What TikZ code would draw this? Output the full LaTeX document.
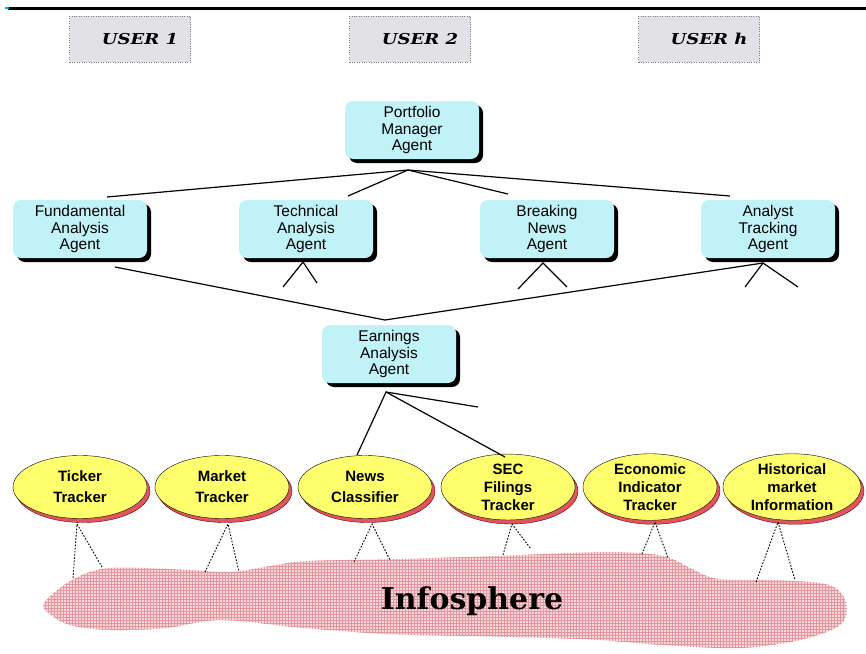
\documentclass[tikz,border=0pt]{standalone}
\usepackage{graphicx}
\usepackage{fontspec}
\setmainfont{Liberation Sans}
\newfontfamily\slab{DejaVu Serif}
\usetikzlibrary{patterns,shapes.geometric,shadows}

\definecolor{agentcyan}{RGB}{192,242,248}
\definecolor{trackyellow}{RGB}{255,255,110}
\definecolor{shadowred}{RGB}{225,85,95}
\definecolor{infopink}{RGB}{250,214,214}
\definecolor{infogrid}{RGB}{225,150,160}
\definecolor{usergray}{RGB}{225,225,230}

\begin{document}
\begin{tikzpicture}[x=1pt,y=-1pt,
  agent/.style={fill=agentcyan, rounded corners=8pt, minimum width=134pt,
    minimum height=58pt, align=center, inner sep=1pt,
    font=\fontsize{15.5}{16.5}\selectfont,
    drop shadow={shadow xshift=4pt, shadow yshift=-4pt, fill=black, opacity=1}},
  tracker/.style={ellipse, draw=black, fill=trackyellow, minimum width=134pt,
    minimum height=63pt, inner sep=0pt, align=center,
    font=\bfseries\fontsize{15}{18}\selectfont,
    drop shadow={shadow xshift=3pt, shadow yshift=-4pt, fill=shadowred,
      draw=black!60!red, opacity=1}},
  userbox/.style={draw=gray, dotted, fill=usergray, minimum width=121pt,
    minimum height=46pt, inner sep=0pt,
    font=\slab\bfseries\itshape\fontsize{15}{17}\selectfont},
  tree/.style={line width=1.2pt, black},
  dots/.style={line width=0.9pt, dash pattern=on 1.6pt off 1.6pt, black}]

\useasboundingbox (0,0) rectangle (866,653);

% top rule
\draw[line width=3pt] (8,8) -- (866,8);
\draw[cyan, line width=2pt] (5,8) -- (9,8);

% users
\node[userbox] (u1) at (130,39) {\hspace*{20pt}\scalebox{1.2}[1]{USER 1}};
\node[userbox] (u2) at (410,39) {\hspace*{20pt}\scalebox{1.2}[1]{USER 2}};
\node[userbox] (uh) at (699,39) {\hspace*{20pt}\scalebox{1.2}[1]{USER \textit{h}}};

% agents
\node[agent] (pm) at (412,130) {Portfolio\\Manager\\Agent};
\node[agent] (fa) at (80,229) {Fundamental\\Analysis\\Agent};
\node[agent] (ta) at (306,229) {Technical\\Analysis\\Agent};
\node[agent] (bn) at (547,229) {Breaking\\News\\Agent};
\node[agent] (at) at (768,229) {Analyst\\Tracking\\Agent};
\node[agent] (ea) at (389,354) {Earnings\\Analysis\\Agent};

% trackers
\node[tracker] (tt) at (80,487) {Ticker\\[3pt]Tracker};
\node[tracker] (mt) at (222,487) {Market\\[3pt]Tracker};
\node[tracker] (nc) at (365,487) {News\\[3pt]Classifier};
\node[tracker] (sf) at (508,487) {SEC\\Filings\\Tracker};
\node[tracker] (ei) at (650,487) {Economic\\Indicator\\Tracker};
\node[tracker, minimum width=138pt] (hm) at (792,487) {Historical\\market\\Information};

% infosphere
\path[fill=infopink]
  plot[smooth cycle, tension=0.55] coordinates {
  (44,603) (72,580) (110,568) (188,570) (232,572) (276,565) (309,561)
  (400,559) (497,556) (608,552) (663,556) (690,568) (718,579) (773,580)
  (829,585) (846,603) (840,625) (800,640) (740,648) (663,645) (600,640)
  (552,638) (470,636) (387,634) (304,628) (221,620) (166,628) (110,630)
  (70,625) (50,614)};
\path[pattern=grid, pattern color=infogrid]
  plot[smooth cycle, tension=0.55] coordinates {
  (44,603) (72,580) (110,568) (188,570) (232,572) (276,565) (309,561)
  (400,559) (497,556) (608,552) (663,556) (690,568) (718,579) (773,580)
  (829,585) (846,603) (840,625) (800,640) (740,648) (663,645) (600,640)
  (552,638) (470,636) (387,634) (304,628) (221,620) (166,628) (110,630)
  (70,625) (50,614)};
\node[font=\slab\bfseries\fontsize{30}{32}\selectfont] (info) at (472,601) {Infosphere};

% connector points
\coordinate (pm-b) at (408,170);
\coordinate (fa-t) at (107,197);
\coordinate (ta-t) at (348,196);
\coordinate (bn-t) at (508,194);
\coordinate (at-t) at (730,196);
\coordinate (fa-b) at (115,267);
\coordinate (ea-t) at (385,320);
\coordinate (ta-b) at (303,262);
\coordinate (ta-l) at (283,287);
\coordinate (ta-r) at (317,283);
\coordinate (bn-b) at (543,263);
\coordinate (bn-l) at (518,289);
\coordinate (bn-r) at (567,287);
\coordinate (at-b) at (763,263);
\coordinate (at-l) at (745,287);
\coordinate (at-r) at (798,287);
\coordinate (ea-b) at (386,392);
\coordinate (ea-x) at (478,407);
\coordinate (nc-t) at (357,455);
\coordinate (sf-t) at (505,457);

\draw[tree] (fa-t) -- (pm-b) -- (at-t);
\draw[tree] (ta-t) -- (pm-b) -- (bn-t);
\draw[tree] (fa-b) -- (ea-t) -- (at-b);
\draw[tree] (ta-l) -- (ta-b) -- (ta-r);
\draw[tree] (bn-l) -- (bn-b) -- (bn-r);
\draw[tree] (at-l) -- (at-b) -- (at-r);
\draw[tree] (nc-t) -- (ea-b) -- (sf-t);
\draw[tree] (ea-b) -- (ea-x);

% dotted links to infosphere
\coordinate (tt-b) at (77,524);
\coordinate (tt-l) at (73,578);
\coordinate (tt-r) at (102,567);
\coordinate (mt-b) at (228,524);
\coordinate (mt-l) at (205,572);
\coordinate (mt-r) at (239,572);
\coordinate (nc-b) at (372,524);
\coordinate (nc-l) at (354,562);
\coordinate (nc-r) at (390,560);
\coordinate (sf-b) at (512,524);
\coordinate (sf-l) at (503,555);
\coordinate (sf-r) at (531,549);
\coordinate (ei-b) at (655,522);
\coordinate (ei-l) at (642,554);
\coordinate (ei-r) at (668,558);
\coordinate (hm-b) at (778,522);
\coordinate (hm-l) at (756,582);
\coordinate (hm-r) at (795,580);

\draw[dots] (tt-l) -- (tt-b) -- (tt-r);
\draw[dots] (mt-l) -- (mt-b) -- (mt-r);
\draw[dots] (nc-l) -- (nc-b) -- (nc-r);
\draw[dots] (sf-l) -- (sf-b) -- (sf-r);
\draw[dots] (ei-l) -- (ei-b) -- (ei-r);
\draw[dots] (hm-l) -- (hm-b) -- (hm-r);
\end{tikzpicture}
\end{document}
